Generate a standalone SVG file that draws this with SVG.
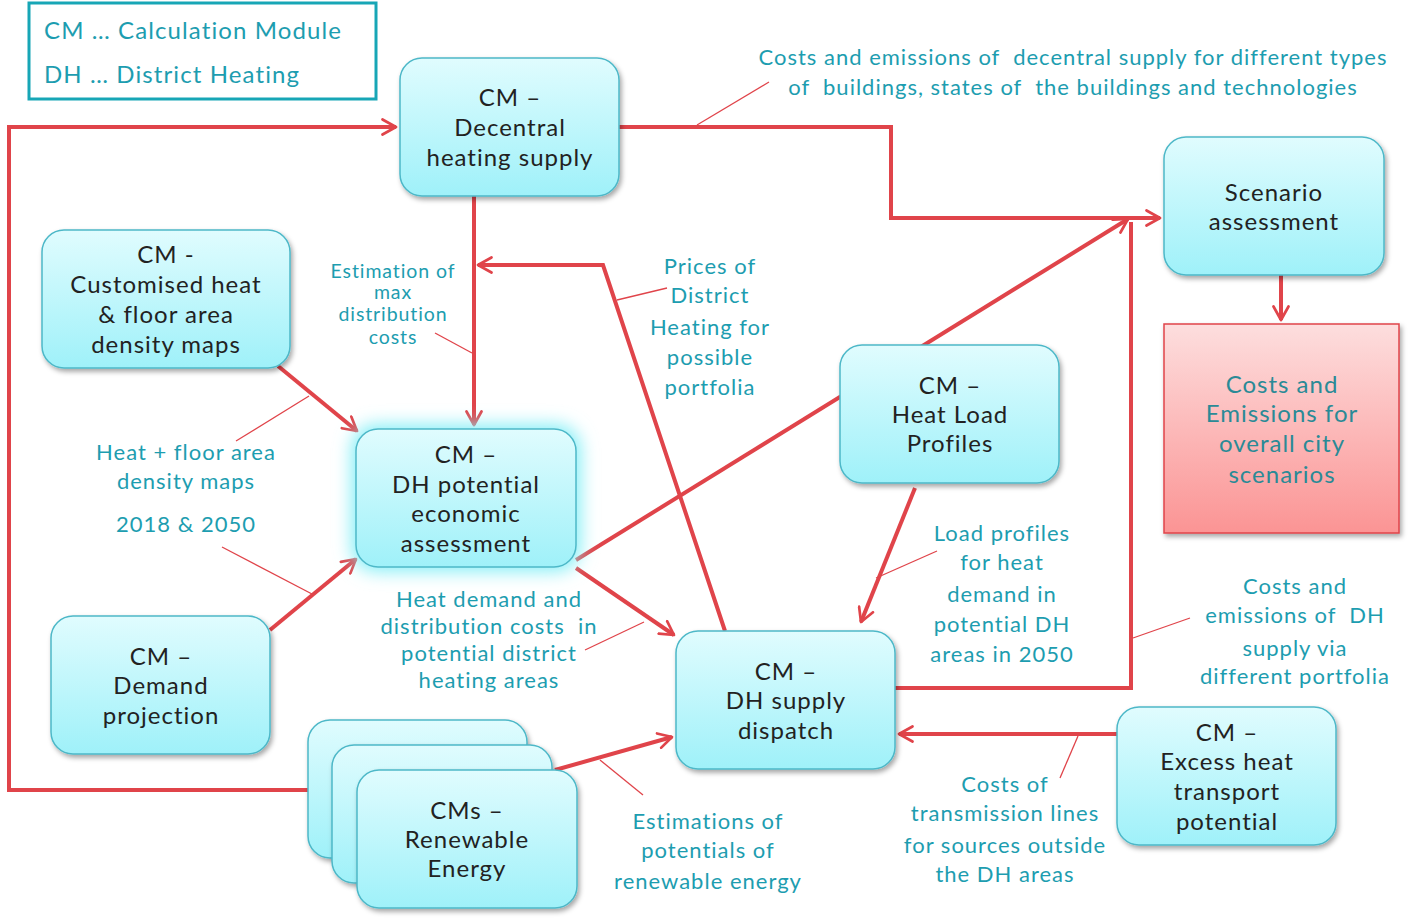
<svg xmlns="http://www.w3.org/2000/svg" width="1411" height="920" viewBox="0 0 1411 920">
<style>
.node{fill:url(#cyan);stroke:#4db8c8;stroke-width:1.5;filter:url(#shadow)}
.nt{font-family:Lato,"Liberation Sans",sans-serif;font-size:24px;fill:#222;text-anchor:middle;letter-spacing:1px}
.lbl{font-family:Lato,"Liberation Sans",sans-serif;font-size:22px;fill:#1d9db0;text-anchor:middle;letter-spacing:1px;white-space:pre}
.lg{font-family:Lato,"Liberation Sans",sans-serif;font-size:24px;fill:#1d9db0;letter-spacing:1.1px}
.sm{font-size:19.5px;letter-spacing:0.9px}
.conn{fill:none;stroke:#e0444a;stroke-width:4}
.lead{fill:none;stroke:#e0444a;stroke-width:1.3}
</style>
<defs>
<linearGradient id="cyan" x1="0" y1="0" x2="0" y2="1">
<stop offset="0" stop-color="#e0fcfe"/>
<stop offset="1" stop-color="#9ff1f9"/>
</linearGradient>
<linearGradient id="pink" x1="0" y1="0" x2="0" y2="1">
<stop offset="0" stop-color="#fddede"/>
<stop offset="1" stop-color="#fb9494"/>
</linearGradient>
<filter id="shadow" x="-20%" y="-20%" width="140%" height="140%">
<feDropShadow dx="2" dy="3" stdDeviation="2.5" flood-color="#000" flood-opacity="0.35"/>
</filter>
<filter id="glow" x="-30%" y="-30%" width="160%" height="160%">
<feGaussianBlur stdDeviation="9"/>
</filter>
<marker id="ahb" viewBox="0 0 12 12" refX="10" refY="6" markerWidth="18" markerHeight="18" markerUnits="userSpaceOnUse" orient="auto">
<path d="M1,1 L10,6 L1,11" fill="none" stroke="#e0444a" stroke-width="1.8" stroke-linecap="round" stroke-linejoin="round"/>
</marker>
</defs>
<rect width="1411" height="920" fill="#fff"/>

<g id="legend">
<rect x="29" y="3" width="347" height="96" fill="#fff" stroke="#17a6b6" stroke-width="3"/>
<text class="lg" x="44" y="39">CM … Calculation Module</text>
<text class="lg" x="44" y="83">DH … District Heating</text>
</g>

<g id="connectors">
<path class="conn" d="M308,790 H9 V127 H396" marker-end="url(#ahb)"/>
<path class="conn" d="M619,127 H891 V218 H1160" marker-end="url(#ahb)"/>
<path class="conn" d="M895,688 H1131 V222"/>
<path class="conn" d="M576,560 L1128,219" marker-end="url(#ahb)"/>
<path class="conn" d="M474,196 V425" marker-end="url(#ahb)"/>
<path class="conn" d="M725,631 L603,265 H478" marker-end="url(#ahb)"/>
<path class="conn" d="M278,366 L357,431" marker-end="url(#ahb)"/>
<path class="conn" d="M270,630 L356,559" marker-end="url(#ahb)"/>
<path class="conn" d="M576,568 L674,635" marker-end="url(#ahb)"/>
<path class="conn" d="M915,488 L861,622" marker-end="url(#ahb)"/>
<path class="conn" d="M555,770 L672,737" marker-end="url(#ahb)"/>
<path class="conn" d="M1117,734 H899" marker-end="url(#ahb)"/>
<path class="conn" d="M1281,275 V320" marker-end="url(#ahb)"/>
<path class="lead" d="M697,125 L769,82"/>
<path class="lead" d="M435,333 L472,353"/>
<path class="lead" d="M617,300 L667,288"/>
<path class="lead" d="M309,396 L236,441"/>
<path class="lead" d="M222,547 L312,594"/>
<path class="lead" d="M585,650 L644,622"/>
<path class="lead" d="M876,578 L937,551"/>
<path class="lead" d="M1133,638 L1190,618"/>
<path class="lead" d="M600,760 L643,795"/>
<path class="lead" d="M1078,736 L1060,778"/>
</g>

<g id="n_decentral">
<rect class="node" x="400" y="58" width="219" height="138" rx="22"/>
<text class="nt" x="510" y="106">CM –</text>
<text class="nt" x="510" y="136">Decentral</text>
<text class="nt" x="510" y="166">heating supply</text>
</g>

<g id="n_customised">
<rect class="node" x="42" y="230" width="248" height="138" rx="22"/>
<text class="nt" x="166" y="263">CM -</text>
<text class="nt" x="166" y="293">Customised heat</text>
<text class="nt" x="166" y="323">&amp; floor area</text>
<text class="nt" x="166" y="353">density maps</text>
</g>

<g id="n_dhpotential">
<rect x="352" y="425" width="228" height="146" rx="24" fill="#7feef6" filter="url(#glow)"/>
<rect x="356" y="429" width="220" height="138" rx="22" fill="url(#cyan)" stroke="#4db8c8" stroke-width="1.5"/>
<text class="nt" x="466" y="463">CM –</text>
<text class="nt" x="466" y="493">DH potential</text>
<text class="nt" x="466" y="522">economic</text>
<text class="nt" x="466" y="552">assessment</text>
</g>

<g id="n_demand">
<rect class="node" x="51" y="616" width="219" height="138" rx="22"/>
<text class="nt" x="161" y="665">CM –</text>
<text class="nt" x="161" y="694">Demand</text>
<text class="nt" x="161" y="724">projection</text>
</g>

<g id="n_renewable">
<rect class="node" x="308" y="720" width="219" height="138" rx="22"/>
<rect class="node" x="332" y="745" width="220" height="138" rx="22"/>
<rect class="node" x="357" y="770" width="220" height="138" rx="22"/>
<text class="nt" x="467" y="819">CMs –</text>
<text class="nt" x="467" y="848">Renewable</text>
<text class="nt" x="467" y="877">Energy</text>
</g>

<g id="n_dispatch">
<rect class="node" x="676" y="631" width="219" height="138" rx="22"/>
<text class="nt" x="786" y="680">CM –</text>
<text class="nt" x="786" y="709">DH supply</text>
<text class="nt" x="786" y="739">dispatch</text>
</g>

<g id="n_heatload">
<rect class="node" x="840" y="345" width="219" height="138" rx="22"/>
<text class="nt" x="950" y="394">CM –</text>
<text class="nt" x="950" y="423">Heat Load</text>
<text class="nt" x="950" y="452">Profiles</text>
</g>

<g id="n_scenario">
<rect class="node" x="1164" y="137" width="220" height="138" rx="22"/>
<text class="nt" x="1274" y="201">Scenario</text>
<text class="nt" x="1274" y="230">assessment</text>
</g>

<g id="n_costs">
<rect x="1164" y="324" width="235" height="209" fill="url(#pink)" stroke="#e0444a" stroke-width="1.5" filter="url(#shadow)"/>
<text class="nt" x="1282" y="393" style="fill:#2a8a96">Costs and</text>
<text class="nt" x="1282" y="422" style="fill:#2a8a96">Emissions for</text>
<text class="nt" x="1282" y="452" style="fill:#2a8a96">overall city</text>
<text class="nt" x="1282" y="483" style="fill:#2a8a96">scenarios</text>
</g>

<g id="n_excess">
<rect class="node" x="1117" y="707" width="219" height="138" rx="22"/>
<text class="nt" x="1227" y="741">CM –</text>
<text class="nt" x="1227" y="770">Excess heat</text>
<text class="nt" x="1227" y="800">transport</text>
<text class="nt" x="1227" y="830">potential</text>
</g>

<g id="labels">
<text class="lbl" x="1073" y="65">Costs and emissions of  decentral supply for different types</text>
<text class="lbl" x="1073" y="95">of  buildings, states of  the buildings and technologies</text>
<text class="lbl sm" x="393" y="278">Estimation of</text>
<text class="lbl sm" x="393" y="299">max</text>
<text class="lbl sm" x="393" y="321">distribution</text>
<text class="lbl sm" x="393" y="344">costs</text>
<text class="lbl" x="710" y="274">Prices of</text>
<text class="lbl" x="710" y="303">District</text>
<text class="lbl" x="710" y="335">Heating for</text>
<text class="lbl" x="710" y="365">possible</text>
<text class="lbl" x="710" y="395">portfolia</text>
<text class="lbl" x="186" y="460">Heat + floor area</text>
<text class="lbl" x="186" y="489">density maps</text>
<text class="lbl" x="186" y="532">2018 &amp; 2050</text>
<text class="lbl" x="489" y="607">Heat demand and</text>
<text class="lbl" x="489" y="634">distribution costs  in</text>
<text class="lbl" x="489" y="661">potential district</text>
<text class="lbl" x="489" y="688">heating areas</text>
<text class="lbl" x="1002" y="541">Load profiles</text>
<text class="lbl" x="1002" y="570">for heat</text>
<text class="lbl" x="1002" y="602">demand in</text>
<text class="lbl" x="1002" y="632">potential DH</text>
<text class="lbl" x="1002" y="662">areas in 2050</text>
<text class="lbl" x="1295" y="594">Costs and</text>
<text class="lbl" x="1295" y="623">emissions of  DH</text>
<text class="lbl" x="1295" y="656">supply via</text>
<text class="lbl" x="1295" y="684">different portfolia</text>
<text class="lbl" x="708" y="829">Estimations of</text>
<text class="lbl" x="708" y="858">potentials of</text>
<text class="lbl" x="708" y="889">renewable energy</text>
<text class="lbl" x="1005" y="792">Costs of</text>
<text class="lbl" x="1005" y="821">transmission lines</text>
<text class="lbl" x="1005" y="853">for sources outside</text>
<text class="lbl" x="1005" y="882">the DH areas</text>
</g>
</svg>
